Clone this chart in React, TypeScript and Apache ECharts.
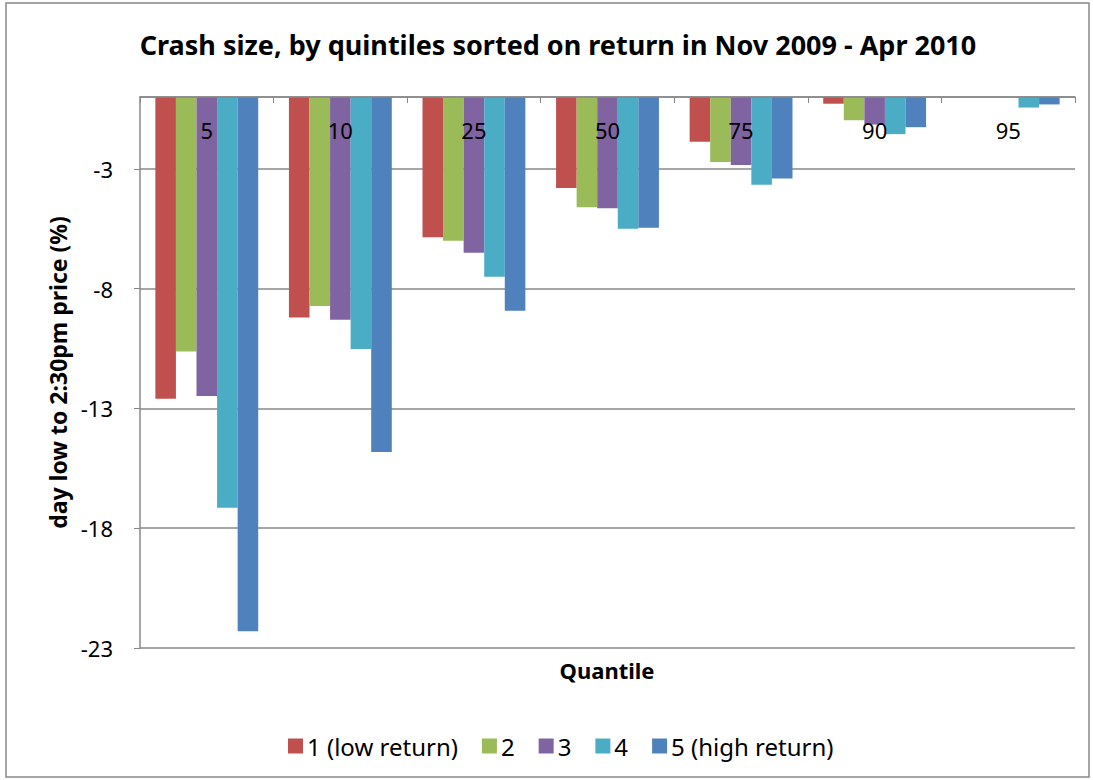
import React, { useEffect, useRef } from "react";
import * as echarts from "echarts";

const categories = ["5", "10", "25", "50", "75", "90", "95"];
const seriesNames = ["1 (low return)", "2", "3", "4", "5 (high return)"];
const q1 = [-12.6, -9.2, -5.85, -3.8, -1.87, -0.28, 0];
const q2 = [-10.62, -8.72, -6.0, -4.6, -2.71, -0.97, 0];
const q3 = [-12.48, -9.3, -6.5, -4.64, -2.84, -1.15, 0];
const q4 = [-17.15, -10.52, -7.5, -5.5, -3.66, -1.55, -0.44];
const q5 = [-22.3, -14.82, -8.92, -5.46, -3.4, -1.26, -0.31];
const colors = ["#C0504D", "#9BBB59", "#8064A2", "#4BACC6", "#4F81BD"];
const yTicks = { min: -23, max: 0, interval: 5 };

const FONT = "'Noto Sans', 'Open Sans', sans-serif";

export default function App() {
  const ref = useRef<HTMLDivElement>(null);
  useEffect(() => {
    if (!ref.current) return;
    const chart = echarts.init(ref.current, undefined, { renderer: "svg" });
    const data = [q1, q2, q3, q4, q5];
    chart.setOption({
      animation: false,
      backgroundColor: "#ffffff",
      textStyle: { fontFamily: FONT },
      title: {
        text: "Crash size, by quintiles sorted on return in Nov 2009 - Apr 2010",
        left: 553,
        textAlign: "center",
        top: 26,
        textStyle: { fontFamily: FONT, fontSize: 27, fontWeight: "bold", color: "#000" },
      },
      legend: {
        left: 283,
        top: 729,
        itemWidth: 15,
        itemHeight: 15,
        itemGap: 24,
        icon: "rect",
        textStyle: { fontFamily: FONT, fontSize: 24, color: "#000", padding: [0, 0, 0, -1] },
        data: seriesNames,
      },
      grid: { left: 140, right: 18, top: 97, bottom: 132, containLabel: false },
      xAxis: {
        type: "category",
        data: categories,
        position: "top",
        z: 10,
        axisLine: { show: true, onZero: false, lineStyle: { color: "#888", width: 1.5 } },
        axisTick: { show: true, inside: true, length: 6, lineStyle: { color: "#888" } },
        axisLabel: { inside: true, margin: 22, fontSize: 22, color: "#000", fontFamily: FONT },
      },
      yAxis: {
        type: "value",
        min: yTicks.min,
        max: yTicks.max,
        interval: yTicks.interval,
        name: "day low to 2:30pm price (%)",
        nameLocation: "middle",
        nameGap: 70,
        nameRotate: 90,
        nameTextStyle: { fontFamily: FONT, fontSize: 23, fontWeight: "bold", color: "#000" },
        axisLine: { show: true, lineStyle: { color: "#888", width: 1.5 } },
        axisTick: { show: true, length: 6, lineStyle: { color: "#888" } },
        axisLabel: { margin: 27, fontSize: 22, color: "#000", fontFamily: FONT, showMaxLabel: false },
        splitLine: { show: true, lineStyle: { color: "#888", width: 1.5 } },
      },
      graphic: [
        {
          type: "rect",
          shape: { x: 6, y: 3, width: 1083, height: 774 },
          style: { fill: "none", stroke: "#888", lineWidth: 1.5 },
          silent: true,
        },
        {
          type: "text",
          x: 607,
          y: 670,
          style: {
            text: "Quantile",
            fontFamily: FONT,
            fontSize: 22,
            fontWeight: "bold",
            fill: "#000",
            align: "center",
            verticalAlign: "middle",
          },
        },
      ],
      series: seriesNames.map((name, i) => ({
        name,
        type: "bar",
        data: data[i],
        barGap: "0%",
        barCategoryGap: "23%",
        itemStyle: { color: colors[i] },
      })),
    });
    return () => chart.dispose();
  }, []);
  return (
    <div
      ref={ref}
      style={{ position: "fixed", left: 0, top: 0, width: 1093, height: 780 }}
    />
  );
}
